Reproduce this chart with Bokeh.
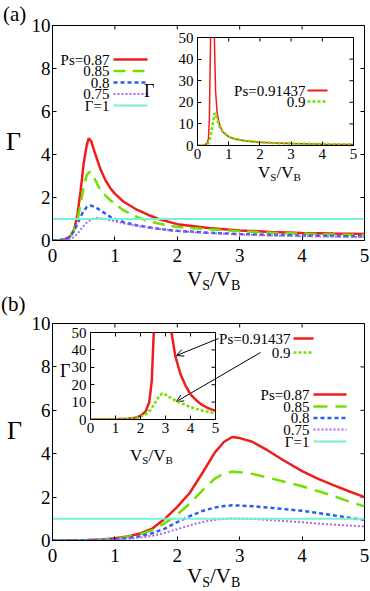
import math
from bokeh.plotting import figure
from bokeh.layouts import column
from bokeh.models import Arrow, OpenHead, Range1d, FixedTicker, Div
from bokeh.embed import file_html
from bokeh.resources import INLINE
from bokeh.core.properties import value

FONT = "Liberation Serif"

# ---------------- data ----------------
x_ticks = [0, 1, 2, 3, 4, 5]
main_y_ticks = [0, 2, 4, 6, 8, 10]
inset_y_ticks = [0, 10, 20, 30, 40, 50]
legend_main = ["Ps=0.87", "0.85", "0.8", "0.75", "\u0393=1"]
legend_inset = ["Ps=0.91437", "0.9"]
gamma_one = 1.0

# panel (a) main
a_x_087 = [0, 0.1, 0.2, 0.25, 0.3, 0.35, 0.4, 0.45, 0.5, 0.55, 0.58, 0.62, 0.66, 0.7, 0.77, 0.85, 0.93, 1.0, 1.14, 1.36, 1.57, 1.7, 2.0, 2.5, 3.0, 3.5, 4.0, 4.5, 5.0]
a_y_087 = [0, 0.01, 0.06, 0.12, 0.25, 0.55, 1.2, 2.3, 3.6, 4.45, 4.75, 4.62, 4.25, 3.9, 3.3, 2.8, 2.42, 2.18, 1.8, 1.42, 1.15, 1.0, 0.76, 0.58, 0.47, 0.4, 0.35, 0.32, 0.3]
a_x_085 = [0, 0.1, 0.2, 0.25, 0.3, 0.35, 0.4, 0.45, 0.5, 0.55, 0.6, 0.66, 0.77, 0.93, 1.14, 1.36, 1.57, 1.86, 2.0, 2.5, 3.0, 3.5, 4.0, 4.5, 5.0]
a_y_085 = [0, 0.01, 0.05, 0.12, 0.25, 0.5, 0.95, 1.7, 2.5, 3.05, 3.2, 2.95, 2.33, 1.86, 1.4, 1.09, 0.87, 0.7, 0.63, 0.52, 0.43, 0.36, 0.32, 0.28, 0.25]
a_x_080 = [0, 0.1, 0.2, 0.25, 0.3, 0.35, 0.4, 0.45, 0.5, 0.55, 0.61, 0.68, 0.77, 0.93, 1.14, 1.36, 1.57, 1.86, 2.0, 2.5, 3.0, 3.5, 4.0, 4.5, 5.0]
a_y_080 = [0, 0.01, 0.05, 0.12, 0.25, 0.48, 0.78, 1.1, 1.38, 1.56, 1.63, 1.56, 1.4, 1.09, 0.85, 0.7, 0.6, 0.49, 0.45, 0.36, 0.3, 0.26, 0.23, 0.21, 0.19]
a_x_075 = [0, 0.1, 0.2, 0.3, 0.35, 0.4, 0.45, 0.5, 0.55, 0.6, 0.65, 0.72, 0.8, 0.93, 1.14, 1.36, 1.57, 1.86, 2.0, 2.5, 3.0, 3.5, 4.0, 4.5, 5.0]
a_y_075 = [0, 0.0, 0.02, 0.08, 0.18, 0.32, 0.5, 0.68, 0.83, 0.94, 1.01, 1.05, 1.02, 0.94, 0.8, 0.67, 0.58, 0.48, 0.44, 0.34, 0.28, 0.23, 0.2, 0.18, 0.16]

# panel (a) inset
ai_x_091437 = [0, 0.1, 0.2, 0.3, 0.35, 0.38, 0.42, 0.45, 0.48, 0.51, 0.54, 0.58, 0.63, 0.7, 0.8, 1.0, 1.2, 1.5, 2.0, 2.5, 3.0, 4.0, 5.0]
ai_y_091437 = [0, 0, 0.1, 0.8, 3, 12, 50, 200, 600, 200, 50, 25, 15, 10, 6.5, 4, 3, 2.2, 1.5, 1.1, 0.9, 0.6, 0.5]
ai_x_090 = [0, 0.1, 0.2, 0.3, 0.35, 0.4, 0.45, 0.5, 0.55, 0.6, 0.65, 0.7, 0.8, 1.0, 1.2, 1.5, 2.0, 2.5, 3.0, 4.0, 5.0]
ai_y_090 = [0, 0, 0.1, 0.5, 1.2, 3, 6.5, 11, 15, 13.5, 11, 9, 6.5, 4, 3, 2.2, 1.5, 1.1, 0.9, 0.65, 0.5]

# panel (b) main
b_x = [0, 0.5, 0.8, 1.0, 1.2, 1.4, 1.6, 1.8, 2.0, 2.2, 2.4, 2.6, 2.75, 2.88, 3.0, 3.2, 3.45, 3.7, 4.0, 4.25, 4.5, 4.75, 5.0]
b_y_087 = [0, 0.01, 0.05, 0.1, 0.18, 0.32, 0.55, 1.0, 1.55, 2.2, 3.1, 4.05, 4.55, 4.77, 4.72, 4.55, 4.15, 3.7, 3.2, 2.85, 2.55, 2.27, 2.0]
b_y_085 = [0, 0.01, 0.04, 0.09, 0.16, 0.28, 0.48, 0.8, 1.2, 1.7, 2.3, 2.85, 3.1, 3.17, 3.15, 3.07, 2.9, 2.72, 2.5, 2.28, 2.05, 1.8, 1.57]
b_y_080 = [0, 0.01, 0.03, 0.06, 0.11, 0.2, 0.34, 0.55, 0.85, 1.12, 1.36, 1.52, 1.59, 1.62, 1.61, 1.58, 1.52, 1.45, 1.37, 1.27, 1.16, 1.05, 0.95]
b_y_075 = [0, 0.0, 0.02, 0.04, 0.07, 0.13, 0.22, 0.35, 0.52, 0.7, 0.85, 0.95, 1.0, 1.02, 1.01, 0.99, 0.95, 0.9, 0.84, 0.78, 0.73, 0.69, 0.65]

# panel (b) inset
bi_x_091437 = [0, 1.0, 1.5, 1.8, 2.0, 2.2, 2.35, 2.45, 2.53, 2.6, 2.85, 3.1, 3.24, 3.4, 3.6, 3.8, 4.0, 4.2, 4.4, 4.6, 4.8, 5.0]
bi_y_091437 = [0, 0.1, 0.4, 1.0, 2.0, 4.5, 10, 22, 50, 90, 600, 90, 50, 36, 26, 19.5, 14.5, 11.5, 9, 7.3, 6, 5]
bi_x_090 = [0, 1.0, 1.5, 1.8, 2.0, 2.2, 2.4, 2.6, 2.75, 2.87, 3.0, 3.2, 3.4, 3.6, 3.8, 4.0, 4.2, 4.5, 5.0]
bi_y_090 = [0, 0.1, 0.4, 0.9, 1.6, 3.0, 5.5, 10, 13.5, 15, 14.3, 12.5, 10.9, 9.5, 8.3, 7.2, 6.2, 5.0, 3.5]

# ---------------- styles ----------------
RED = "#f01c1c"
GREEN = "#74e000"
BLUE = "#2a5cf5"
PURPLE = "#b066f0"
CYAN = "#74f2d2"


def style_axis(ax, ticks, size, standoff):
    ax.ticker = FixedTicker(ticks=ticks)
    ax.major_tick_in = 4
    ax.major_tick_out = 0
    ax.minor_tick_line_color = None
    ax.axis_line_color = "black"
    ax.major_tick_line_color = "black"
    ax.major_label_text_font = FONT
    ax.major_label_text_color = "black"
    ax.major_label_text_font_size = f"{size}px"
    ax.major_label_standoff = standoff


def make_fig(w, h, bl, br, bt, bb, yr, yticks, tsize, xs, ys, **kw):
    p = figure(width=w, height=h, x_range=Range1d(0, 5), y_range=Range1d(*yr),
               output_backend="svg", toolbar_location=None,
               min_border_left=bl, min_border_right=br, min_border_top=bt, min_border_bottom=bb,
               **kw)
    p.grid.visible = False
    p.outline_line_color = "black"
    p.outline_line_width = 1
    style_axis(p.xaxis[0], x_ticks, tsize, xs)
    style_axis(p.yaxis[0], yticks, tsize, ys)
    # mirrored inward ticks on top and right edges
    p.ray(x=x_ticks, y=[yr[1]] * len(x_ticks), length=4, length_units="screen",
          angle=-math.pi / 2, line_color="black", line_width=1)
    p.ray(x=[5] * len(yticks), y=yticks, length=4, length_units="screen",
          angle=math.pi, line_color="black", line_width=1)
    return p


def legend_rows(p, labels, xt, xs0, xs1, ys, styles, size=15):
    for t, y, (c, lw, dash) in zip(labels, ys, styles):
        p.text(x=[xt], y=[y], text=[t], text_font=value(FONT), text_font_size=f"{size}px",
               text_align="right", text_baseline="middle", text_color="black")
        p.line([xs0, xs1], [y, y], line_color=c, line_width=lw, line_dash=dash)


def div(text, left, top, size):
    return Div(text=text, margin=0,
               styles={"position": "absolute", "left": f"{left}px", "top": f"{top}px",
                       "font-family": FONT, "font-size": f"{size}px", "color": "black",
                       "line-height": "1", "white-space": "nowrap"})


def vs_vb(big, small, drop):
    sub = f'<span style="font-size:{small}px;vertical-align:-{drop}px">'
    return f"V{sub}S</span>/V{sub}B</span>"


main_styles_a = [(RED, 2.5, "solid"), (GREEN, 2.5, "12 7"), (BLUE, 2.5, "4 3"), (PURPLE, 2, "2 2"), (CYAN, 2, "solid")]
main_styles_b = [(RED, 2.5, "solid"), (GREEN, 2.5, "14 8"), (BLUE, 2.5, "4 3"), (PURPLE, 2, "2 2"), (CYAN, 2, "solid")]

# ---------------- panel (a): frame x 52..364, y 25..240 ----------------
pa = make_fig(370, 295, 52, 6, 25, 55, (0, 10), main_y_ticks, 19, 8, 2)
pa.line(a_x_087, a_y_087, line_color=RED, line_width=2.5)
pa.line(a_x_085, a_y_085, line_color=GREEN, line_width=2.5, line_dash="12 7")
pa.line(a_x_080, a_y_080, line_color=BLUE, line_width=2.5, line_dash="4 3")
pa.line(a_x_075, a_y_075, line_color=PURPLE, line_width=2, line_dash="2 2")
pa.line([x_ticks[0], x_ticks[-1]], [gamma_one, gamma_one], line_color=CYAN, line_width=2)
rows_a = [(240 - yy) / 21.5 for yy in (59, 70.5, 82, 93.5, 105)]
legend_rows(pa, legend_main, (109 - 52) / 62.4, (113 - 52) / 62.4, (147 - 52) / 62.4, rows_a, main_styles_a)

# inset (a): frame x 197..353, y 37..145
ia = make_fig(220, 162, 57, 7, 7, 47, (0, 50), inset_y_ticks, 15, 3, 4,
              styles={"position": "absolute", "left": "140px", "top": "30px"})
ia.border_fill_alpha = 0
ia.line(ai_x_091437, ai_y_091437, line_color=RED, line_width=1.5)
ia.line(ai_x_090, ai_y_090, line_color=GREEN, line_width=2.5, line_dash="3 2")
rows_ai = [(145 - yy) / 2.16 for yy in (90, 101)]
legend_rows(ia, legend_inset, (305 - 197) / 31.2, (307 - 197) / 31.2, (327 - 197) / 31.2, rows_ai,
            [(RED, 2, "solid"), (GREEN, 2.5, "3 2")])

# ---------------- panel (b): frame x 52..364, y 323..540 ----------------
pb = make_fig(370, 296, 52, 6, 28, 51, (0, 10), main_y_ticks, 19, 8, 2)
pb.line(b_x, b_y_087, line_color=RED, line_width=2.5)
pb.line(b_x, b_y_085, line_color=GREEN, line_width=2.5, line_dash="14 8")
pb.line(b_x, b_y_080, line_color=BLUE, line_width=2.5, line_dash="4 3")
pb.line(b_x, b_y_075, line_color=PURPLE, line_width=2, line_dash="2 2")
pb.line([x_ticks[0], x_ticks[-1]], [gamma_one, gamma_one], line_color=CYAN, line_width=2)
rows_b = [(540 - yy) / 21.7 for yy in (394, 406, 417.5, 429, 441)]
legend_rows(pb, legend_main, (309 - 52) / 62.4, (313 - 52) / 62.4, (346 - 52) / 62.4, rows_b, main_styles_b)
rows_bi = [(540 - yy) / 21.7 for yy in (338, 352)]
legend_rows(pb, legend_inset, (290 - 52) / 62.4, (293 - 52) / 62.4, (313 - 52) / 62.4, rows_bi,
            [(RED, 2.5, "solid"), (GREEN, 2.5, "3 2")])
head = dict(size=7, line_color="black", line_width=1)
pb.add_layout(Arrow(x_start=(218 - 52) / 62.4, y_start=(540 - 338) / 21.7,
                    x_end=(176 - 52) / 62.4, y_end=(540 - 355) / 21.7,
                    line_color="black", line_width=1, end=OpenHead(**head)))
pb.add_layout(Arrow(x_start=(260 - 52) / 62.4, y_start=(540 - 352) / 21.7,
                    x_end=(176 - 52) / 62.4, y_end=(540 - 401) / 21.7,
                    line_color="black", line_width=1, end=OpenHead(**head)))

# inset (b): frame x 90..215, y 332..419
ib = make_fig(164, 134, 32, 7, 7, 40, (0, 50), inset_y_ticks, 15, 3, 4,
              styles={"position": "absolute", "left": "58px", "top": "325px"})
ib.border_fill_alpha = 0
ib.background_fill_alpha = 0
ib.line(bi_x_091437, bi_y_091437, line_color=RED, line_width=2.5)
ib.line(bi_x_090, bi_y_090, line_color=GREEN, line_width=2.5, line_dash="3 2")

# ---------------- texts outside the frames ----------------
texts = [
    div("(a)", 3, 4, 21),
    div("(b)", 1, 294, 21),
    div("\u0393", 6, 129, 26),
    div("\u0393", 7, 418, 26),
    div(vs_vb(21, 14, 4), 187, 269, 21),
    div(vs_vb(21, 14, 4), 187, 566, 21),
    div("\u0393", 144, 82, 18),
    div("\u0393", 60, 362, 18),
    div(vs_vb(17, 11, 3), 258, 164, 17),
    div(vs_vb(17, 11, 3), 130, 447, 17),
]

layout = column(pa, pb)
open("out.html", "w").write(file_html([layout, ia, ib] + texts, INLINE))
